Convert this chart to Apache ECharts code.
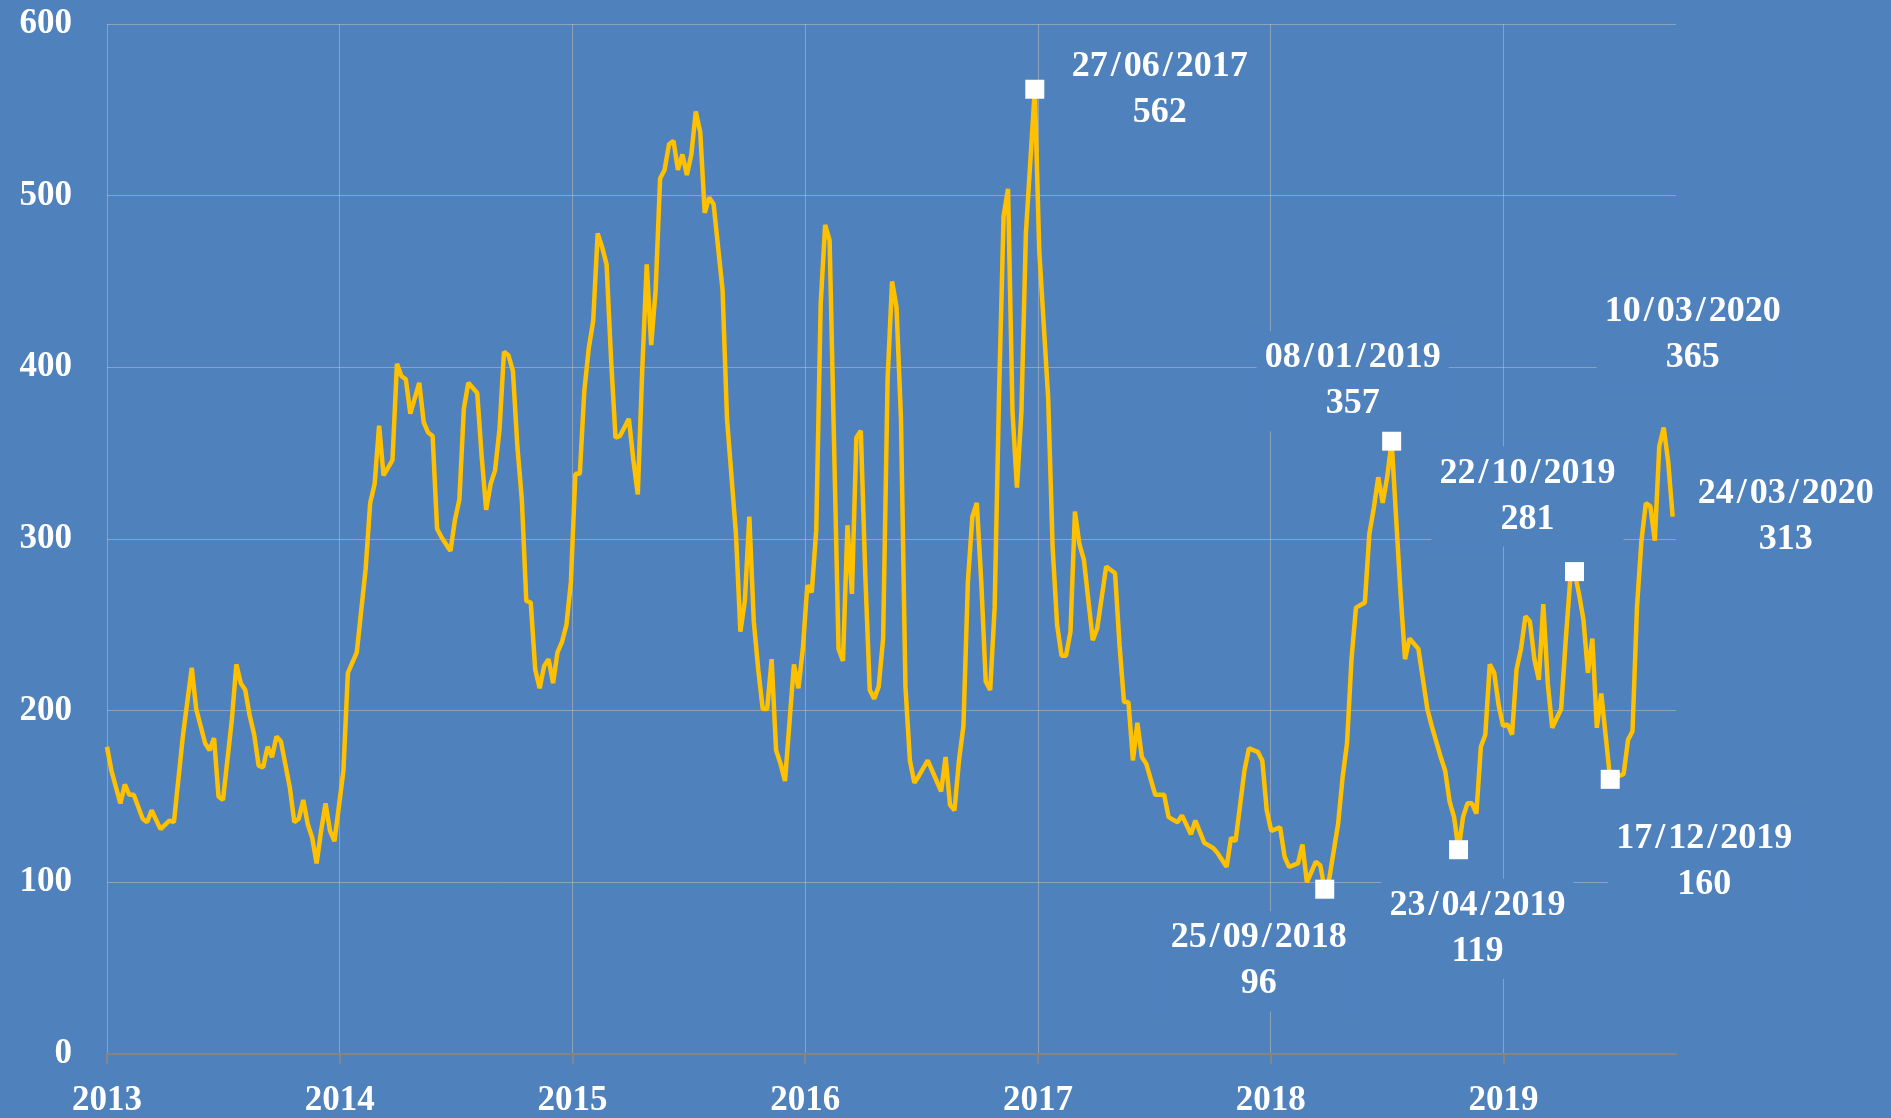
<!DOCTYPE html>
<html lang="en">
<head>
    <meta charset="UTF-8">
    <title>Weekly series 2013 - 2020</title>
    <script src="https://cdn.jsdelivr.net/npm/echarts@6.0.0/dist/echarts.min.js"></script>
    <style>
        html, body { margin: 0; padding: 0; background: #4F81BD; }
        #main { width: 1891px; height: 1118px; }
    </style>
</head>
<body>
<div id="main"></div>
<script type="text/javascript">
    // week index counted from the first observation (weekly, Tuesdays)
    var weeks = [0, 1, 3, 4, 5, 6, 8, 9, 10, 12, 14, 15, 17, 19, 20, 22, 23, 24, 25, 26, 28, 29, 30, 31, 32, 33, 34, 35, 36, 37, 38, 39,
        41, 42, 43, 44, 45, 46, 47, 48, 49, 50, 51, 53, 54, 56, 58, 59, 60, 61, 62, 64, 65, 66, 67, 68, 70, 71, 72, 73, 74, 75, 77, 78, 79,
        80, 81, 83, 84, 85, 86, 87, 88, 89, 90, 91, 92, 93, 94, 95, 96, 97, 98, 99, 100, 101, 102, 103, 104, 105, 106, 107, 108, 109,
        110, 111, 112, 113, 114, 115, 117, 118, 119, 120, 121, 122, 123, 124, 125, 126, 127, 128, 129, 130, 131, 132, 133, 134, 135, 136,
        138, 139, 141, 142, 143, 144, 145, 146, 147, 148, 149, 150, 151, 152, 153, 154, 155, 156, 157, 158, 159, 160, 161, 162, 164, 165,
        166, 167, 168, 169, 170, 171, 172, 173, 174, 175, 176, 177, 178, 179, 180, 181, 182, 184, 185, 187, 188, 189, 190, 191, 192, 193,
        194, 195, 196, 197, 198, 199, 200, 201, 202, 203, 204, 205, 206, 208, 209, 211, 212, 213, 214, 215, 216, 217, 218, 219, 221, 222,
        224, 226, 227, 228, 229, 230, 231, 232, 233, 235, 237, 238, 240, 241, 243, 244, 246, 248, 249, 251, 252, 253, 255, 256, 258, 259,
        260, 261, 263, 264, 265, 267, 268, 269, 271, 272, 273, 274, 276, 277, 278, 279, 280, 282, 283, 284, 285, 286, 287, 288, 290, 291,
        292, 294, 296, 297, 299, 300, 301, 302, 303, 304, 305, 306, 307, 308, 309, 310, 311, 312, 313, 314, 315, 316, 317, 318, 319, 320,
        321, 322, 323, 324, 326, 327, 328, 329, 330, 331, 332, 333, 334, 335, 336, 337, 340, 341, 342, 343, 344, 345, 346, 347, 348, 349,
        350, 351];
    var values = [179, 165, 146, 157, 151, 151, 137, 135, 142, 131, 136, 135, 185, 225, 201, 181, 177, 184, 150, 148, 195, 227, 216, 212, 197, 186, 168, 167, 179, 173, 185, 182,
        155, 135, 137, 148, 134, 126, 111, 130, 146, 130, 124, 165, 222, 234, 283, 321, 332, 366, 337, 346, 402, 395, 393, 373, 391, 368, 362, 360, 306, 301, 293, 311, 323,
        376, 391, 385, 348, 317, 332, 340, 364, 409, 407, 398, 354, 323, 264, 263, 224, 213, 226, 230, 216, 234, 240, 250, 275, 338, 338, 386, 411, 427,
        478, 470, 460, 405, 359, 360, 370, 346, 326, 399, 460, 413, 445, 510, 515, 530, 532, 515, 524, 512, 524, 549, 537, 490, 499, 495,
        445, 370, 303, 246, 264, 313, 252, 224, 201, 201, 230, 177, 169, 159, 193, 227, 213, 236, 273, 269, 305, 437, 483, 474, 236, 229,
        308, 268, 359, 363, 279, 212, 207, 214, 242, 393, 450, 435, 370, 214, 171, 158, 162, 171, 165, 153, 173, 145, 142, 171, 191, 275,
        313, 321, 275, 217, 212, 260, 386, 488, 504, 374, 330, 374, 478, 562, 468, 382, 295, 250, 232, 232, 246, 316, 297, 288, 241, 248,
        284, 280, 238, 205, 205, 171, 193, 173, 169, 151, 151, 138, 135, 139, 128, 136, 123, 120, 117, 109, 126, 124, 165, 178, 176, 171,
        142, 130, 132, 115, 109, 111, 122, 100, 112, 110, 96, 102, 134, 161, 181, 230, 260, 263, 303, 318, 336, 321, 336, 357, 268, 230,
        242, 236, 201, 191, 173, 165, 147, 138, 119, 138, 146, 146, 140, 179, 186, 227, 222, 203, 191, 192, 186, 224, 236, 255, 252, 230,
        218, 262, 216, 190, 201, 240, 275, 281, 268, 253, 222, 242, 190, 210, 185, 160, 163, 183, 188, 260, 299, 321, 319, 299, 354, 365,
        345, 313];

    // axis labels (one per 52.18 weeks)
    var yearLabels = ['2013', '2014', '2015', '2016', '2017', '2018', '2019'];
    var weeksPerYear = 365.25 / 7;

    // annotated points
    var markDates = ['27/06/2017', '25/09/2018', '08/01/2019', '23/04/2019', '22/10/2019', '17/12/2019', '10/03/2020', '24/03/2020'];
    var markWeeks = [208, 273, 288, 303, 329, 337, 349, 351];
    var markValues = [562, 96, 357, 119, 281, 160, 365, 313];
    var markBox = [true, true, true, true, true, true, false, false];

    // label offsets from the marker centre, in pixels
    var labelOffsets = [[125, 0], [-66, 72], [-39, -60], [19, 79], [-47, -75], [94, 82], [29, -93], [113, 0]];

    var bg = '#4F81BD';
    var gridColor = 'rgba(190,190,190,0.55)';
    var font = 'Liberation Serif';

    var lineData = [];
    for (var i = 0; i < weeks.length; i++) {
        lineData.push([weeks[i], values[i]]);
    }

    var yearTicks = [];
    for (var j = 0; j < yearLabels.length; j++) {
        yearTicks.push(j * weeksPerYear);
    }

    var markData = [];
    for (var k = 0; k < markDates.length; k++) {
        markData.push({
            name: markDates[k],
            value: [markWeeks[k], markValues[k]],
            itemStyle: {color: markBox[k] ? '#FFFFFF' : 'rgba(0,0,0,0)', opacity: 1},
            label: {offset: labelOffsets[k]}
        });
    }

    var myChart = echarts.init(document.getElementById('main'));

    var option = {
        backgroundColor: bg,
        animation: false,
        grid: {left: 107, right: 215, top: 24, bottom: 63},
        xAxis: {
            type: 'value',
            min: 0,
            max: 351.75,
            axisLine: {show: true, lineStyle: {color: '#858585', width: 2}},
            axisTick: {
                show: true,
                length: 10,
                customValues: yearTicks,
                lineStyle: {color: '#858585', width: 2}
            },
            axisLabel: {
                customValues: yearTicks,
                margin: 29,
                color: '#FFFFFF',
                fontFamily: font,
                fontWeight: 'bold',
                fontSize: 35,
                formatter: function (v) {
                    return yearLabels[Math.round(v / weeksPerYear)];
                }
            },
            splitLine: {show: true, lineStyle: {color: gridColor, width: 1}}
        },
        yAxis: {
            type: 'value',
            min: 0,
            max: 600,
            interval: 100,
            axisLine: {show: false},
            axisTick: {show: false},
            axisLabel: {
                margin: 35,
                color: '#FFFFFF',
                fontFamily: font,
                fontWeight: 'bold',
                fontSize: 35
            },
            splitLine: {show: true, lineStyle: {color: gridColor, width: 1}}
        },
        series: [
            {
                type: 'line',
                data: lineData,
                showSymbol: false,
                lineStyle: {color: '#FFC000', width: 4.5},
                z: 3
            },
            {
                type: 'scatter',
                data: markData,
                symbol: 'rect',
                symbolSize: 19,
                z: 5,
                label: {
                    show: true,
                    position: 'inside',
                    align: 'center',
                    verticalAlign: 'middle',
                    color: '#FFFFFF',
                    fontFamily: font,
                    fontWeight: 'bold',
                    fontSize: 36,
                    lineHeight: 46,
                    backgroundColor: bg,
                    padding: [4, 8],
                    formatter: function (p) {
                        return p.name.replace(/\//g, '\u200A/\u200A') + '\n' + p.value[1];
                    }
                }
            }
        ]
    };

    myChart.setOption(option);
</script>
</body>
</html>
